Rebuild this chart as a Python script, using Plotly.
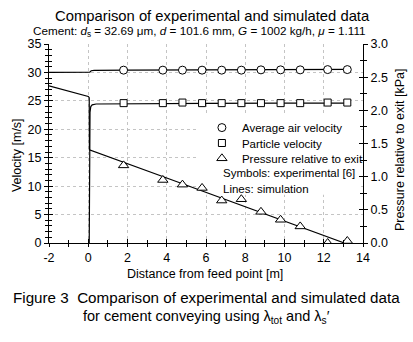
import plotly.graph_objects as go

# ---- data ----
exp_x = [1.8, 3.8, 4.8, 5.8, 6.8, 7.8, 8.8, 9.8, 10.8, 12.2, 13.2]
exp_air = [30.4, 30.4, 30.4, 30.4, 30.4, 30.4, 30.45, 30.45, 30.45, 30.5, 30.5]
exp_part = [24.6, 24.6, 24.7, 24.6, 24.6, 24.6, 24.6, 24.6, 24.6, 24.7, 24.7]
exp_x_p = [1.8, 3.8, 4.8, 5.8, 6.8, 7.8, 8.8, 9.8, 10.8, 12.2, 13.2]
exp_press = [1.17, 0.95, 0.88, 0.83, 0.64, 0.66, 0.47, 0.35, 0.25, 0.0, 0.03]

sim_air_x = [-2, 0.08, 0.15, 0.3, 2, 6, 10, 13.3]
sim_air = [30.0, 30.05, 30.3, 30.35, 30.4, 30.45, 30.5, 30.55]
sim_part_x = [0.05, 0.06, 0.09, 0.13, 0.2, 0.4, 2, 6, 10, 13.3]
sim_part = [0.0, 20.0, 23.0, 24.0, 24.3, 24.45, 24.5, 24.55, 24.6, 24.6]
sim_p_x = [-2, 0.0, 0.05, 0.06, 4, 8.8, 13.05]
sim_press = [2.37, 2.21, 2.19, 1.405, 0.98, 0.465, 0.0]

x_tick_vals = [-2, 0, 2, 4, 6, 8, 10, 12, 14]
x_tick_text = ["-2", "0", "2", "4", "6", "8", "10", "12", "14"]

X_RANGE = [-2, 14]
V_RANGE = [0, 35]
P_RANGE = [0, 3]

FONT = "Arial, Liberation Sans, sans-serif"
fig = go.Figure()

line = dict(color="black", width=1.2)
fig.add_trace(go.Scatter(x=sim_air_x, y=sim_air, mode="lines", line=line, showlegend=False))
fig.add_trace(go.Scatter(x=sim_part_x, y=sim_part, mode="lines", line=line, showlegend=False))
fig.add_trace(go.Scatter(x=sim_p_x, y=sim_press, mode="lines", line=line, showlegend=False, yaxis="y2"))

mk = dict(color="white", size=8, line=dict(color="black", width=1))
fig.add_trace(go.Scatter(x=exp_x, y=exp_air, mode="markers", name="Average air velocity",
                         marker=dict(symbol="circle", **mk), legend="legend"))
fig.add_trace(go.Scatter(x=exp_x, y=exp_part, mode="markers", name="Particle velocity",
                         marker=dict(symbol="square", **dict(mk, size=7)), legend="legend2"))
fig.add_trace(go.Scatter(x=exp_x_p, y=exp_press, mode="markers", name="Pressure relative to exit",
                         marker=dict(symbol="triangle-up", **dict(mk, size=9)), yaxis="y2",
                         legend="legend3"))
# empty traces so the overlay (inside-tick) axes are drawn
fig.add_trace(go.Scatter(x=[], y=[], xaxis="x2", yaxis="y3", showlegend=False, hoverinfo="skip"))
fig.add_trace(go.Scatter(x=[], y=[], yaxis="y4", showlegend=False, hoverinfo="skip"))

grid = dict(showgrid=True, gridcolor="#c4c4c4", griddash="dot", gridwidth=1)
tk = dict(tickcolor="black", automargin=False, zeroline=False)
leg = dict(x=0.487, xanchor="left", yanchor="middle", bgcolor="rgba(0,0,0,0)",
           font=dict(size=11.5), itemwidth=30)
fig.update_layout(
    width=413, height=342,
    margin=dict(l=49, r=50, t=44, b=99),
    paper_bgcolor="white", plot_bgcolor="white",
    font=dict(family=FONT, size=12, color="black"),
    xaxis=dict(range=X_RANGE, tickmode="array", tickvals=x_tick_vals, ticktext=x_tick_text,
               showline=True, linecolor="black", linewidth=1,
               ticks="outside", ticklen=3, ticklabelstandoff=0,
               minor=dict(dtick=1, tick0=-2, ticks="outside", ticklen=3, tickcolor="black", showgrid=False),
               tickfont=dict(size=12.5), **grid, **tk),
    xaxis2=dict(range=X_RANGE, dtick=2, tick0=-2, overlaying="x", anchor="y3", side="bottom",
                showline=False, showgrid=False, showticklabels=False, ticks="inside", ticklen=4,
                minor=dict(dtick=1, ticks="inside", ticklen=3, tickcolor="black"), **tk),
    yaxis=dict(range=V_RANGE, dtick=5, showline=True, linecolor="black", linewidth=1,
               ticks="outside", ticklen=4,
               minor=dict(dtick=1, ticks="outside", ticklen=3, tickcolor="black", showgrid=False),
               tickfont=dict(size=12.5), **grid, **tk),
    yaxis3=dict(range=V_RANGE, dtick=5, overlaying="y", anchor="x2", side="left",
                showline=False, showgrid=False, showticklabels=False, ticks="inside", ticklen=4,
                minor=dict(dtick=1, ticks="inside", ticklen=3, tickcolor="black"), **tk),
    yaxis2=dict(range=P_RANGE, dtick=0.5, tickformat=".1f", overlaying="y", side="right", anchor="x",
                showline=True, linecolor="black", linewidth=1, ticks="outside", ticklen=4,
                showgrid=False,
                minor=dict(dtick=0.25, ticks="outside", ticklen=3, tickcolor="black"),
                tickfont=dict(size=12.5), **tk),
    yaxis4=dict(range=P_RANGE, dtick=0.5, overlaying="y", side="right", anchor="x",
                showline=False, showgrid=False, showticklabels=False, ticks="inside", ticklen=4,
                minor=dict(dtick=0.25, ticks="inside", ticklen=3, tickcolor="black"), **tk),
    legend=dict(y=0.58, **leg),
    legend2=dict(y=0.5025, **leg),
    legend3=dict(y=0.4256, **leg),
    shapes=[dict(type="rect", xref="x", yref="y", x0=5.5, x1=13.9, y0=8.5, y1=22.5,
                 fillcolor="white", line=dict(width=0), layer="between")],
    annotations=[
        dict(text="Comparison of experimental and simulated data", xref="paper", yref="paper",
             x=0.52, y=1.0, xanchor="center", yanchor="bottom", yshift=18, showarrow=False,
             font=dict(size=14.8)),
        dict(text="Cement: <i>d</i><sub>s</sub> = 32.69 \u03bcm, <i>d</i> = 101.6 mm, <i>G</i> = 1002 kg/h, <i>\u03bc</i> = 1.111",
             xref="paper", yref="paper", x=0.48, y=1.0, xanchor="center", yanchor="bottom", yshift=3,
             showarrow=False, font=dict(size=11.7)),
        dict(text="Symbols: experimental [6]", xref="paper", yref="paper", x=0.548, y=0.352,
             xanchor="left", yanchor="middle", showarrow=False, font=dict(size=11.5)),
        dict(text="Lines: simulation", xref="paper", yref="paper", x=0.548, y=0.271,
             xanchor="left", yanchor="middle", showarrow=False, font=dict(size=11.5)),
        dict(text="Velocity [m/s]", xref="paper", yref="paper", x=-0.1, y=0.44,
             xanchor="center", yanchor="middle", textangle=-90, showarrow=False, font=dict(size=12.5)),
        dict(text="Pressure relative to exit [kPa]", xref="paper", yref="paper", x=1.118, y=0.467,
             xanchor="center", yanchor="middle", textangle=-90, showarrow=False, font=dict(size=12.5)),
        dict(text="Distance from feed point [m]", xref="paper", yref="paper", x=0.497, y=0, yshift=-31,
             xanchor="center", yanchor="middle", showarrow=False, font=dict(size=12.5)),
        dict(text="Figure 3  Comparison of experimental and simulated data", xref="paper", yref="paper",
             x=0.5, y=0, yshift=-54, xanchor="center", yanchor="middle", showarrow=False,
             font=dict(size=15.2)),
        dict(text="for cement conveying using \u03bb<sub>tot</sub> and \u03bb<sub>s</sub>\u2032", xref="paper", yref="paper",
             x=0.5, y=0, yshift=-74, xanchor="center", yanchor="middle", showarrow=False,
             font=dict(size=14.5)),
    ],
)

fig.write_html("out.html", config={"displayModeBar": False},
               post_script="document.body.style.margin='0px';")
